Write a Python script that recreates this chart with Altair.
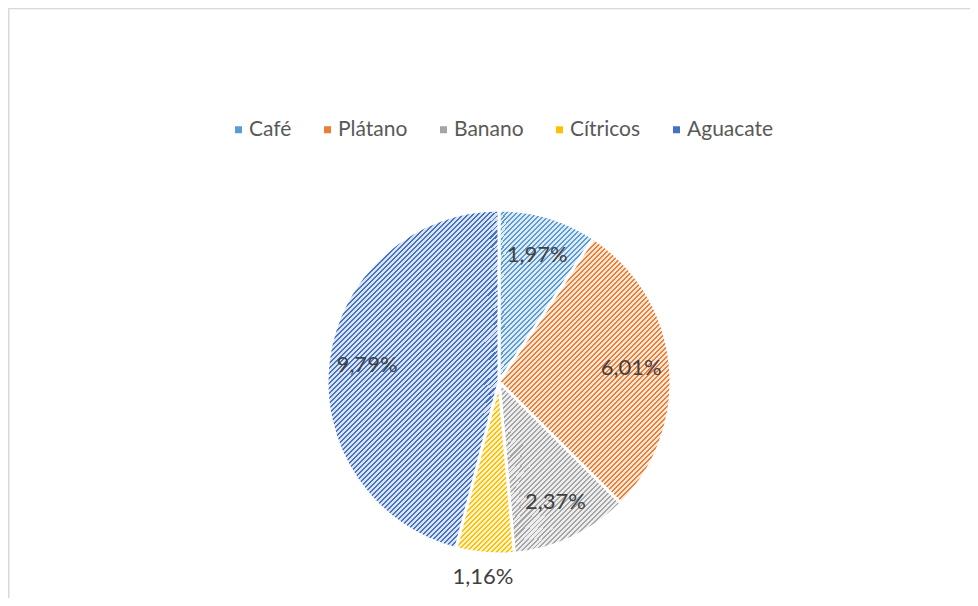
import math
import altair as alt
import pandas as pd

categories = ["Café", "Plátano", "Banano", "Cítricos", "Aguacate"]
values = [1.97, 6.01, 2.37, 1.16, 9.79]
labels = ["1,97%", "6,01%", "2,37%", "1,16%", "9,79%"]
stripe_colors = ["#5B9BD5", "#ED7D31", "#A5A5A5", "#FFC000", "#4472C4"]
back_colors = ["#DDEBF7", "#FBE5D6", "#EDEDED", "#FFF2CC", "#DAE3F3"]

R = 172
W, H = 942, 432
PAD = {"left": 20, "top": 158, "right": 0, "bottom": 0}
total = sum(values)

df = pd.DataFrame({"cat": categories, "value": values, "label": labels,
                   "idx": list(range(len(categories)))})


def sector_bbox(a0, a1, r):
    pts = [(0.0, 0.0), (r * math.sin(a0), -r * math.cos(a0)),
           (r * math.sin(a1), -r * math.cos(a1))]
    for k in range(5):
        a = k * math.pi / 2
        if a0 < a < a1:
            pts.append((r * math.sin(a), -r * math.cos(a)))
    xs = [p[0] for p in pts]
    ys = [p[1] for p in pts]
    return max(xs) - min(xs), max(ys) - min(ys)


def hatch(a0, a1, fg, bg, p=5, duty=0.4):
    """45-degree rising stripes, horizontal period p pixels, in bbox units."""
    w, h = sector_bbox(a0, a1, R)
    n = math.ceil((w + h) / p)
    s = n * p / (w * w + h * h)
    stops = []
    for i in range(n):
        o0 = i / n
        o1 = (i + duty) / n
        o2 = (i + 1) / n
        stops += [{"offset": o0, "color": fg}, {"offset": o1, "color": fg},
                  {"offset": o1, "color": bg}, {"offset": o2, "color": bg}]
    return {"gradient": "linear", "x1": 0, "y1": 0, "x2": w * s, "y2": h * s,
            "stops": stops}


base = (
    alt.Chart(df)
    .transform_window(cum="sum(value)", sort=[alt.SortField("idx")], frame=[None, 0])
    .transform_calculate(
        start="datum.cum - datum.value",
        end="datum.cum",
        mid="datum.cum - datum.value / 2",
        lr=f"datum.value / {total} < 0.07 ? 196 : 133",
    )
)
theta_scale = alt.Scale(domain=[0, total], range=[0, 2 * math.pi])

pie_base = base.mark_arc(radius=R, stroke="white", strokeWidth=3).encode(
    theta=alt.Theta("start:Q", scale=theta_scale),
    theta2="end:Q",
    color=alt.Color(
        "cat:N",
        scale=alt.Scale(domain=categories, range=stripe_colors),
        legend=alt.Legend(
            orient="none", legendX=200, legendY=-47, direction="horizontal",
            title=None, symbolType="square", symbolSize=49, symbolStrokeWidth=0,
            labelFont="Lato", labelFontSize=21, labelColor="#595959",
            labelOffset=0, columnPadding=25, padding=0, labelLimit=0,
        ),
    ),
)

layers = [pie_base]
cum = 0.0
for i, v in enumerate(values):
    a0 = cum / total * 2 * math.pi
    cum += v
    a1 = cum / total * 2 * math.pi
    layers.append(
        base.transform_filter(alt.datum.idx == i)
        .mark_arc(radius=R, fill=hatch(a0, a1, stripe_colors[i], back_colors[i]),
                  stroke="white", strokeWidth=3)
        .encode(theta=alt.Theta("start:Q", scale=theta_scale), theta2="end:Q")
    )

text = base.mark_text(font="Lato", fontSize=22, color="#404040",
                      align="center", baseline="middle").encode(
    theta=alt.Theta("mid:Q", scale=theta_scale),
    radius=alt.Radius("lr:Q", scale=None),
    text="label:N",
)
layers.append(text)

one = alt.Chart(pd.DataFrame({"a": [0]}))
top_rule = one.mark_rule(color="#D9D9D9", strokeWidth=1.5).encode(
    x=alt.value(-20), x2=alt.value(W), y=alt.value(-157.5))
left_rule = one.mark_rule(color="#D9D9D9", strokeWidth=2).encode(
    x=alt.value(-19.5), y=alt.value(-158), y2=alt.value(H))
layers += [top_rule, left_rule]

chart = (
    alt.layer(*layers)
    .properties(width=W, height=H, padding=PAD, autosize="none", background="white")
    .configure_view(stroke=None)
)

chart.save("out.html", embed_options={"renderer": "svg", "actions": False})
